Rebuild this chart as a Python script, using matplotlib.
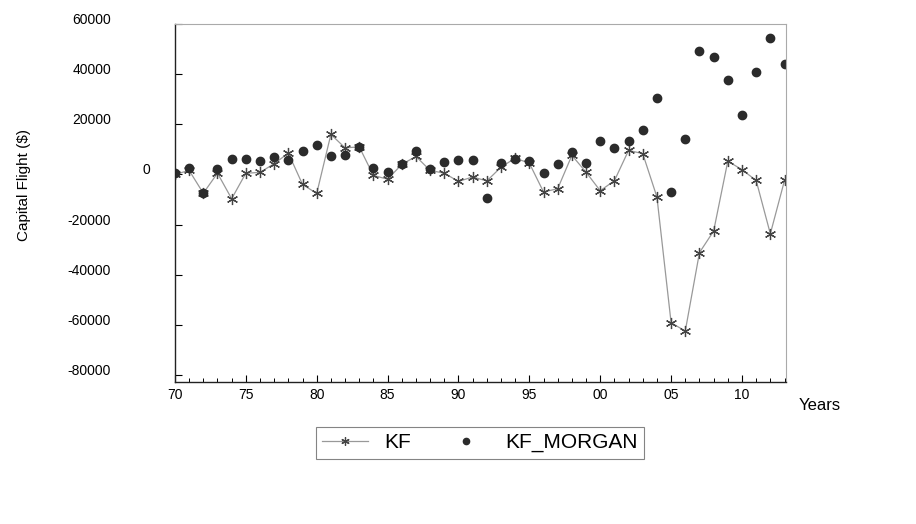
import matplotlib
matplotlib.use('Agg')
import matplotlib.pyplot as plt

# yearly values, 1970-2013
years = list(range(1970, 2014))

kf = [0, 1600, -7500, 500, -9700, 500, 800, 4300, 8500, -4000,
      -7600, 16000, 10600, 11000, -400, -1900, 4000, 7200, 1600, 500,
      -2800, -1000, -2600, 2900, 6500, 4500, -7000, -5700, 7600, 900,
      -6500, -2500, 9600, 8300, -9000, -59200, -62500, -31200, -22600, 5300,
      1900, -2400, -23700, -2400]

kf_morgan = [500, 2700, -7400, 2100, 6300, 6100, 5200, 6900, 5900, 9300,
             11900, 7200, 7700, 10900, 2500, 800, 4300, 9300, 2300, 4900,
             5700, 5700, -9400, 4500, 6300, 5300, 500, 4000, 8900, 4700,
             13200, 10500, 13400, 17800, 30600, -6900, 14000, 49200, 46800, 37800,
             23800, 40800, 54400, 44000]

xticks = [1970, 1975, 1980, 1985, 1990, 1995, 2000, 2005, 2010]
xticklabels = ['70', '75', '80', '85', '90', '95', '00', '05', '10']
yticks = [60000, 40000, 20000, 0, -20000, -40000, -60000, -80000]

plt.rcParams['font.family'] = ['Liberation Sans', 'DejaVu Sans']

fig = plt.figure(figsize=(9.16, 5.24), dpi=100)
ax = fig.add_axes([0.191, 0.271, 0.667, 0.683])

ax.plot(years, kf, color='#999999', lw=0.9, marker=(6, 2, 0), markersize=8,
        markeredgecolor='#444444', markeredgewidth=0.9, label='KF')
ax.plot(years, kf_morgan, linestyle='none', marker='o', markersize=6,
        color='#2b2b2b', label='KF_MORGAN')

ax.set_xlim(1970, 2013.1)
ax.set_ylim(-82840, 60000)

ax.set_xticks(xticks)
ax.set_xticklabels(xticklabels, fontsize=10)
ax.set_xticks(years, minor=True)
ax.set_yticks(yticks)
# the zero label sits further right in the original, drawn separately below
ax.set_yticklabels(['' if v == 0 else str(v) for v in yticks], fontsize=10, va='baseline')
ax.text(-0.041, 0, '0', fontsize=10, ha='right', va='baseline',
        transform=ax.get_yaxis_transform())
ax.tick_params(axis='both', which='major', direction='in', length=5, width=0.8)
ax.tick_params(axis='x', which='minor', direction='in', length=3, width=0.7)
ax.tick_params(axis='y', which='major', pad=46)
ax.tick_params(axis='x', which='major', pad=4)

for side in ['left', 'bottom']:
    ax.spines[side].set_color('#222222')
    ax.spines[side].set_linewidth(1.0)
for side in ['top', 'right']:
    ax.spines[side].set_color('#aaaaaa')
    ax.spines[side].set_linewidth(0.8)

ax.set_ylabel('Capital Flight ($)', fontsize=11)
ax.yaxis.set_label_coords(-0.235, 0.55)

fig.text(0.872, 0.226, 'Years', fontsize=12, ha='left', va='center')

leg = fig.legend(loc='center', bbox_to_anchor=(0.524, 0.155), ncol=2,
                 fontsize=15, frameon=True, fancybox=False, edgecolor='#666666',
                 handlelength=2.2, columnspacing=1.5, borderpad=0.3, markerscale=0.75)
leg.get_frame().set_linewidth(0.8)

fig.savefig('out.png', dpi=100)
